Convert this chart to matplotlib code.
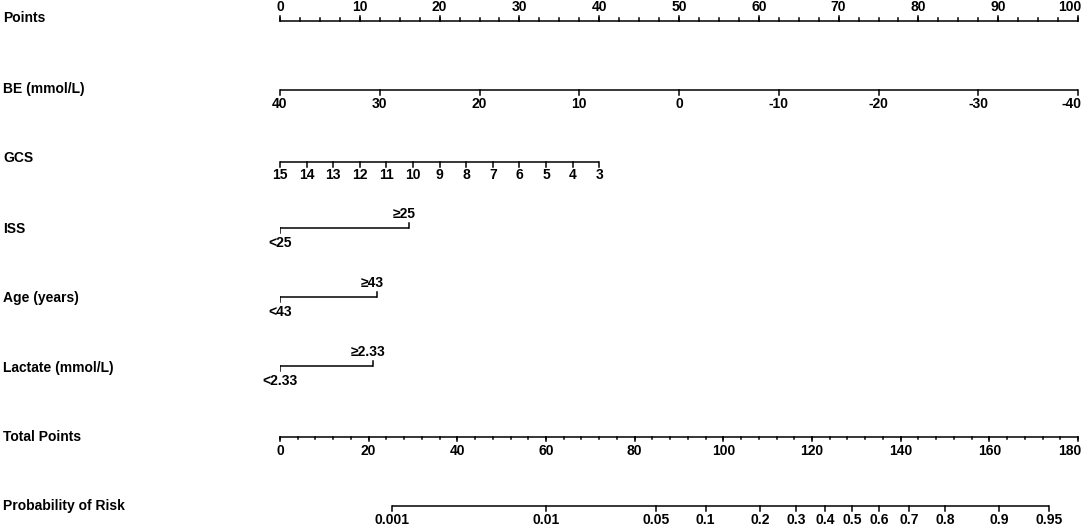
import numpy as np
import matplotlib
matplotlib.use("Agg")
import matplotlib.pyplot as plt

plt.rcParams['font.family'] = ['Liberation Sans', 'DejaVu Sans']

# points scale
points_major = list(range(0, 101, 10))
points_minor = list(np.arange(0, 100.1, 2.5))

# base excess (mmol/L) -> points
be_ticks = [40, 30, 20, 10, 0, -10, -20, -30, -40]
be_points = [(40 - v) * 100 / 80 for v in be_ticks]

# GCS -> points
gcs_ticks = [15, 14, 13, 12, 11, 10, 9, 8, 7, 6, 5, 4, 3]
gcs_points = [(15 - v) * 40 / 12 for v in gcs_ticks]

# binary factors
iss_labels = ['<25', '≥25']
iss_points = [0, 16.2]
age_labels = ['<43', '≥43']
age_points = [0, 12.2]
lac_labels = ['<2.33', '≥2.33']
lac_points = [0, 11.7]

# total points
total_major = list(range(0, 181, 20))
total_minor = list(range(0, 181, 4))
total_max = 180

# probability scale (logit = (TP - intercept) / slope)
prob_ticks = [0.001, 0.01, 0.05, 0.1, 0.2, 0.3, 0.4, 0.5, 0.6, 0.7, 0.8, 0.9, 0.95]
prob_labels = ['0.001', '0.01', '0.05', '0.1', '0.2', '0.3', '0.4', '0.5', '0.6',
               '0.7', '0.8', '0.9', '0.95']
lp_center = 129.1
lp_scale = 15.05

row_names = ['Points', 'BE (mmol/L)', 'GCS', 'ISS', 'Age (years)',
             'Lactate (mmol/L)', 'Total Points', 'Probability of Risk']
row_label_y = [18, 89, 158, 229, 298, 368, 437, 506]

W, H = 1084, 527
fig = plt.figure(figsize=(W / 100, H / 100), dpi=100)
x0, x1 = 280, 1078
ax = fig.add_axes([x0 / W, 0, (x1 - x0) / W, 1])
ax.set_xlim(0, 100)
ax.set_ylim(H, 0)
ax.axis('off')

px = 100 / (x1 - x0)   # one pixel in points units
LW = 1.1
FS = 10
txt = dict(fontsize=FS, fontweight='bold', va='center', clip_on=False)


def scale(y, pos, labels, direction, lab_off, minor=None, major_len=5, minor_len=3):
    ax.plot([min(pos), max(pos)], [y, y], color='black', lw=LW, clip_on=False,
            solid_capstyle='butt')
    d = -1 if direction == 'up' else 1
    if minor is not None:
        for p in minor:
            ax.plot([p, p], [y, y + d * minor_len], color='black', lw=LW, clip_on=False)
    for p, lab in zip(pos, labels):
        ax.plot([p, p], [y, y + d * major_len], color='black', lw=LW, clip_on=False)
        if p > 99.9:
            ax.text(p + 3 * px, y + d * lab_off, lab, ha='right', **txt)
        else:
            ax.text(p, y + d * lab_off, lab, ha='center', **txt)


def factor(y, pos, labels):
    ax.plot([pos[0], pos[1]], [y, y], color='black', lw=LW, solid_capstyle='butt')
    ax.plot([pos[0], pos[0]], [y, y + 5], color='black', lw=LW)
    ax.plot([pos[1], pos[1]], [y, y - 5], color='black', lw=LW)
    ax.text(pos[0], y + 15, labels[0], ha='center', **txt)
    ax.text(pos[1] - 5 * px, y - 14, labels[1], ha='center', **txt)


scale(21, points_major, [str(v) for v in points_major], 'up', 14, minor=points_minor)
scale(90, be_points, [str(v) for v in be_ticks], 'down', 14)
scale(162, gcs_points, [str(v) for v in gcs_ticks], 'down', 13)
factor(228, iss_points, iss_labels)
factor(297, age_points, age_labels)
factor(366, lac_points, lac_labels)

to_pts = 100 / total_max
scale(437, [v * to_pts for v in total_major], [str(v) for v in total_major], 'down', 14,
      minor=[v * to_pts for v in total_minor], major_len=4, minor_len=2)

prob_tp = [lp_center + lp_scale * np.log(p / (1 - p)) for p in prob_ticks]
scale(506, [t * to_pts for t in prob_tp], prob_labels, 'down', 14)

for name, y in zip(row_names, row_label_y):
    fig.text(3 / W, 1 - y / H, name, fontsize=FS, fontweight='bold', ha='left', va='center')

fig.savefig('out.png', dpi=100)
